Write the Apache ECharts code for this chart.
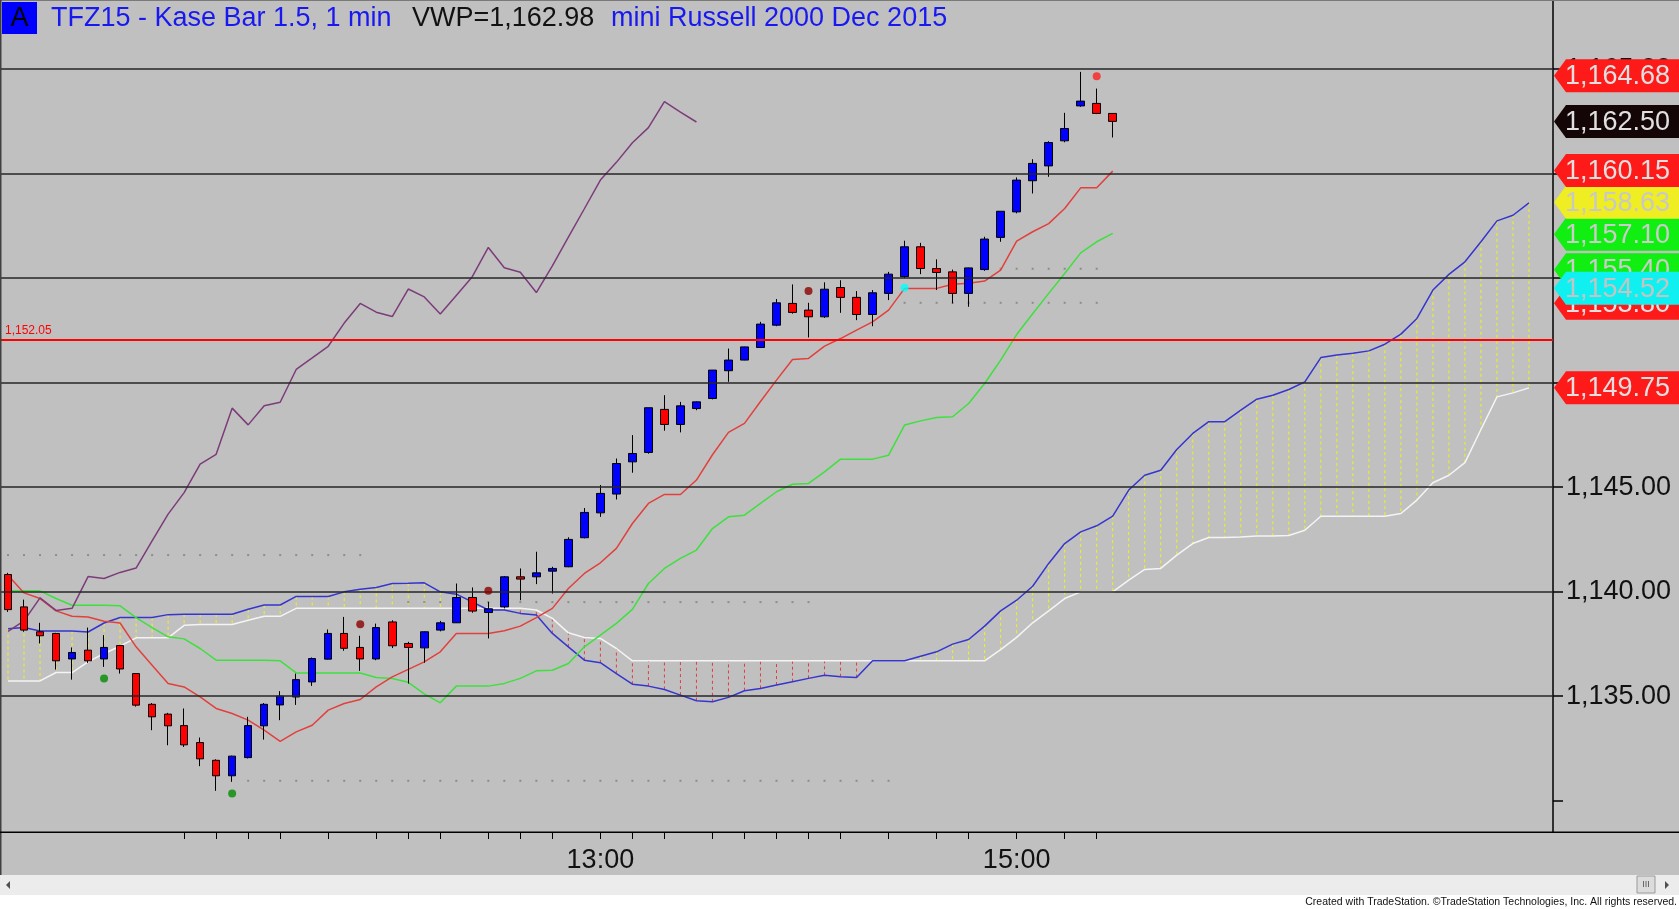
<!DOCTYPE html>
<html>
<head>
<meta charset="utf-8">
<title>TFZ15 - Kase Bar 1.5, 1 min</title>
<script src="https://cdn.jsdelivr.net/npm/echarts@6/dist/echarts.min.js"></script>
<style>
html, body { margin: 0; padding: 0; background: #c0c0c0; }
#chart { width: 1679px; height: 909px; }
</style>
</head>
<body>
<div id="chart"></div>
<script>
// bars, [open, close, low, high]
var candles = [
    [1140.82, 1139.14, 1139.03, 1140.90], [1139.27, 1138.16, 1138.08, 1139.62],
    [1138.08, 1137.89, 1137.52, 1138.51], [1138.00, 1136.69, 1136.27, 1138.03],
    [1136.78, 1137.09, 1135.79, 1137.33], [1137.20, 1136.69, 1136.59, 1138.28],
    [1136.78, 1137.33, 1136.40, 1137.92], [1137.42, 1136.30, 1136.08, 1137.45],
    [1136.08, 1134.57, 1134.50, 1136.10], [1134.61, 1134.01, 1133.37, 1134.67],
    [1134.14, 1133.58, 1132.65, 1134.20], [1133.59, 1132.67, 1132.57, 1134.41],
    [1132.78, 1132.00, 1131.65, 1133.02], [1131.93, 1131.19, 1130.47, 1131.98],
    [1131.19, 1132.13, 1130.90, 1132.15], [1132.06, 1133.59, 1132.02, 1134.01],
    [1133.58, 1134.61, 1132.92, 1134.67], [1134.58, 1135.00, 1133.85, 1135.24],
    [1134.96, 1135.79, 1134.58, 1136.08], [1135.68, 1136.80, 1135.49, 1136.85],
    [1136.77, 1138.00, 1136.75, 1138.19], [1138.00, 1137.29, 1137.17, 1138.79],
    [1137.33, 1136.78, 1136.21, 1137.89], [1136.78, 1138.28, 1136.72, 1138.47],
    [1138.55, 1137.41, 1137.30, 1138.63], [1137.52, 1137.33, 1135.60, 1137.60],
    [1137.31, 1138.08, 1136.60, 1138.10], [1138.16, 1138.51, 1138.10, 1138.60],
    [1138.51, 1139.72, 1138.50, 1140.39], [1139.72, 1139.07, 1138.99, 1140.20],
    [1139.00, 1139.18, 1137.76, 1139.51], [1139.27, 1140.71, 1139.20, 1140.75],
    [1140.71, 1140.60, 1139.59, 1141.11], [1140.71, 1140.90, 1140.36, 1141.91],
    [1140.98, 1141.11, 1139.91, 1141.19], [1141.19, 1142.50, 1141.17, 1142.60],
    [1142.58, 1143.79, 1142.55, 1144.00], [1143.77, 1144.70, 1143.58, 1145.10],
    [1144.67, 1146.13, 1144.41, 1146.37], [1146.21, 1146.61, 1145.69, 1147.49],
    [1146.66, 1148.80, 1146.60, 1148.80], [1148.72, 1148.00, 1147.70, 1149.40],
    [1148.00, 1148.89, 1147.62, 1149.08], [1148.76, 1149.08, 1148.68, 1149.10],
    [1149.24, 1150.60, 1149.20, 1150.60], [1150.57, 1151.08, 1150.04, 1151.63],
    [1151.08, 1151.71, 1151.07, 1151.72], [1151.68, 1152.80, 1151.68, 1152.91],
    [1152.75, 1153.82, 1152.70, 1154.00], [1153.79, 1153.36, 1153.30, 1154.70],
    [1153.47, 1153.15, 1152.16, 1153.82], [1153.15, 1154.47, 1153.10, 1154.80],
    [1154.55, 1154.08, 1153.34, 1154.90], [1154.08, 1153.26, 1152.99, 1154.38],
    [1153.26, 1154.30, 1152.70, 1154.43], [1154.27, 1155.19, 1153.95, 1155.30],
    [1155.07, 1156.50, 1155.00, 1156.79], [1156.50, 1155.46, 1155.19, 1156.69],
    [1155.46, 1155.27, 1154.43, 1155.90], [1155.30, 1154.27, 1153.79, 1155.41],
    [1154.27, 1155.49, 1153.63, 1155.50], [1155.41, 1156.87, 1155.35, 1156.98],
    [1156.95, 1158.20, 1156.74, 1158.20], [1158.17, 1159.69, 1158.10, 1159.82],
    [1159.66, 1160.49, 1159.05, 1160.69], [1160.37, 1161.49, 1159.85, 1161.55],
    [1161.57, 1162.16, 1161.50, 1162.91], [1163.24, 1163.47, 1163.20, 1164.87],
    [1163.36, 1162.88, 1162.85, 1164.07], [1162.88, 1162.50, 1161.73, 1162.90]
];

var laggingSpan = [
    1138.10, 1138.60, 1139.70, 1139.10, 1139.20, 1140.72, 1140.63, 1140.92, 1141.13, 1142.43,
    1143.71, 1144.74, 1146.10, 1146.57, 1148.78, 1147.98, 1148.89, 1149.06, 1150.63, 1151.18,
    1151.74, 1152.85, 1153.79, 1153.37, 1153.16, 1154.48, 1154.10, 1153.28, 1154.17, 1155.07,
    1156.47, 1155.50, 1155.28, 1154.31, 1155.59, 1156.96, 1158.32, 1159.69, 1160.54, 1161.48,
    1162.20, 1163.45, 1162.94, 1162.47
];

var tenkan = [
    1140.79, 1139.94, 1139.67, 1139.08, 1138.82, 1138.79, 1138.58, 1138.50, 1137.36, 1136.48,
    1135.60, 1135.44, 1134.96, 1134.41, 1134.17, 1133.85, 1133.37, 1132.84, 1133.29, 1133.61,
    1134.33, 1134.65, 1134.84, 1135.44, 1135.92, 1136.28, 1136.64, 1137.12, 1138.00, 1138.00,
    1138.00, 1138.13, 1138.35, 1138.76, 1139.20, 1140.15, 1140.87, 1141.38, 1142.07, 1143.26,
    1144.22, 1144.65, 1144.65, 1145.34, 1146.55, 1147.62, 1148.05, 1149.10, 1150.12, 1151.11,
    1151.16, 1151.75, 1152.11, 1152.51, 1152.91, 1153.47, 1154.51, 1154.51, 1154.51, 1154.71,
    1154.75, 1154.86, 1155.38, 1156.77, 1157.22, 1157.61, 1158.33, 1159.32, 1159.32, 1160.12
];

var kijun = [
    1140.04, 1140.04, 1140.04, 1139.67, 1139.35, 1139.35, 1139.35, 1139.32, 1138.76, 1138.28,
    1137.84, 1137.74, 1137.28, 1136.72, 1136.72, 1136.72, 1136.72, 1136.69, 1136.11, 1136.11,
    1136.11, 1136.11, 1136.11, 1135.89, 1135.84, 1135.66, 1135.11, 1134.68, 1135.48, 1135.48,
    1135.48, 1135.61, 1135.85, 1136.21, 1136.24, 1136.56, 1137.36, 1137.92, 1138.48, 1139.15,
    1140.39, 1141.11, 1141.59, 1141.99, 1143.02, 1143.58, 1143.66, 1144.22, 1144.78, 1145.14,
    1145.18, 1145.73, 1146.34, 1146.34, 1146.34, 1146.53, 1147.97, 1148.17, 1148.33, 1148.37,
    1149.00, 1149.96, 1151.08, 1152.30, 1153.30, 1154.27, 1155.22, 1156.21, 1156.74, 1157.14
];

var senkouA = [
    1138.23, 1138.28, 1138.12, 1138.12, 1138.12, 1138.07, 1138.50, 1138.76, 1138.76, 1138.76,
    1138.90, 1138.92, 1138.92, 1138.92, 1138.92, 1139.16, 1139.36, 1139.36, 1139.77, 1139.77,
    1139.77, 1139.99, 1140.12, 1140.20, 1140.39, 1140.40, 1140.42, 1139.99, 1139.88, 1139.51,
    1139.12, 1139.12, 1138.96, 1138.88, 1138.00, 1137.36, 1136.72, 1136.60, 1136.08, 1135.57,
    1135.48, 1135.32, 1135.05, 1134.78, 1134.73, 1134.94, 1135.26, 1135.37, 1135.53, 1135.69,
    1135.85, 1136.00, 1135.93, 1135.89, 1136.69, 1136.69, 1136.69, 1136.91, 1137.12, 1137.49,
    1137.71, 1138.35, 1139.08, 1139.59, 1140.26, 1141.35, 1142.30, 1142.86, 1143.15, 1143.61,
    1144.86, 1145.57, 1145.81, 1146.80, 1147.57, 1148.13, 1148.13, 1148.68, 1149.21, 1149.40,
    1149.67, 1150.04, 1151.20, 1151.32, 1151.41, 1151.52, 1151.84, 1152.32, 1153.07, 1154.43,
    1155.18, 1155.78, 1156.74, 1157.74, 1158.01, 1158.60
];

var senkouB = [
    1135.73, 1135.73, 1135.73, 1136.13, 1136.13, 1136.64, 1137.04, 1137.39, 1137.79, 1137.79,
    1137.79, 1138.39, 1138.43, 1138.43, 1138.43, 1138.63, 1138.82, 1138.82, 1139.20, 1139.20,
    1139.20, 1139.20, 1139.20, 1139.20, 1139.20, 1139.20, 1139.20, 1139.20, 1139.20, 1139.20,
    1139.20, 1139.20, 1139.20, 1139.12, 1138.72, 1138.03, 1137.81, 1137.76, 1137.28, 1136.69,
    1136.69, 1136.69, 1136.69, 1136.69, 1136.69, 1136.69, 1136.69, 1136.69, 1136.69, 1136.69,
    1136.69, 1136.69, 1136.69, 1136.69, 1136.69, 1136.69, 1136.69, 1136.69, 1136.69, 1136.69,
    1136.69, 1136.69, 1137.23, 1137.81, 1138.51, 1139.08, 1139.67, 1139.99, 1139.99, 1139.99,
    1140.55, 1141.06, 1141.11, 1141.75, 1142.30, 1142.59, 1142.59, 1142.62, 1142.66, 1142.66,
    1142.69, 1142.94, 1143.61, 1143.61, 1143.61, 1143.61, 1143.61, 1143.74, 1144.38, 1145.21,
    1145.57, 1146.17, 1147.76, 1149.32, 1149.51, 1149.75
];

// [bar, price, colour]
var signalDots = [
    [6, 1135.84, '#008c00'], [14, 1130.34, '#008c00'],
    [22, 1138.44, '#8b0000'], [30, 1140.04, '#8b0000'], [50, 1154.38, '#8b0000'],
    [56, 1154.54, '#00ffff'], [68, 1164.66, '#ff2020']
];

// [price, first bar, last bar]
var dottedLevels = [
    [1141.75, 0, 22], [1139.50, 25, 50], [1130.95, 15, 55],
    [1153.82, 56, 68], [1155.45, 62, 68]
];

// right edge tags, [price, background, text colour], drawn in this order
var priceTags = [
    [1149.75, '#ff1a1a', '#e0e0e0'],
    [1153.80, '#ff1a1a', '#e0e0e0'],
    [1155.40, '#11ee11', '#cccccc'],
    [1157.10, '#11ee11', '#cccccc'],
    [1158.63, '#eeee22', '#c8c8c8'],
    [1160.15, '#ff1a1a', '#e0e0e0'],
    [1162.50, '#140606', '#e0e0e0'],
    [1164.68, '#ff1a1a', '#e0e0e0'],
    [1154.52, '#11f0f0', '#c4c4c4']
];

var refLevel = 1152.05;
var yGridLines = [1135, 1140, 1145, 1150, 1155, 1160, 1165];
var yTicks = [1130, 1135, 1140, 1145, 1150, 1155, 1160, 1165];
var yLabelTicks = [1135, 1140, 1145, 1155, 1160, 1165];
var xTickBars = [11, 13, 15, 17, 20, 23, 25, 27, 30, 32, 34, 37, 39, 41, 44, 46, 48, 50, 52, 55, 58, 60, 63, 66, 68];
var timeLabels = [[37, '13:00'], [63, '15:00']];
var barCount = 97;

var FONT = '"Liberation Sans", Arial, sans-serif';

function fmt(v) {
    return Number(v).toLocaleString('en-US', {minimumFractionDigits: 2, maximumFractionDigits: 2});
}

var cats = [];
for (var i = 0; i < barCount; i++) {
    cats.push(String(i));
}

var labelMap = {};
timeLabels.forEach(function (t) { labelMap[t[0]] = t[1]; });

var cloudData = senkouA.map(function (a, i) { return [i, a, senkouB[i]]; });

var dotData = [];
dottedLevels.forEach(function (lv) {
    for (var k = lv[1]; k <= lv[2]; k++) {
        dotData.push([k, lv[0]]);
    }
});

var signalData = signalDots.map(function (d) {
    return {value: [d[0], d[1]], itemStyle: {color: d[2]}};
});

function renderCloud(params, api) {
    var a = api.value(1), b = api.value(2);
    if (Math.abs(a - b) < 0.03) {
        return;
    }
    var p1 = api.coord([api.value(0), a]);
    var p2 = api.coord([api.value(0), b]);
    return {
        type: 'line',
        shape: {x1: p1[0], y1: p1[1], x2: p2[0], y2: p2[1]},
        style: {stroke: a > b ? '#f2f21e' : '#e23c3c', lineWidth: 1, lineDash: [3, 3]}
    };
}

function renderTag(params, api) {
    var tag = priceTags[params.dataIndex];
    var y = api.coord([0, api.value(1)])[1];
    var x0 = params.coordSys.x + params.coordSys.width;
    var h = 16.5;
    return {
        type: 'group',
        children: [{
            type: 'polygon',
            shape: {points: [[x0 + 1, y], [x0 + 13, y - h], [x0 + 126, y - h], [x0 + 126, y + h], [x0 + 13, y + h]]},
            style: {fill: tag[1]}
        }, {
            type: 'text',
            style: {
                text: fmt(tag[0]), x: x0 + 12, y: y + 1,
                verticalAlign: 'middle', font: '27px ' + FONT, fill: tag[2]
            }
        }]
    };
}

var chart = echarts.init(document.getElementById('chart'));

var option = {
    backgroundColor: '#c0c0c0',
    animation: false,
    grid: {left: -3, right: 126, top: 1, bottom: 77},
    xAxis: {
        type: 'category',
        data: cats,
        boundaryGap: true,
        axisLine: {show: false},
        axisTick: {
            show: true,
            alignWithLabel: true,
            length: 7,
            interval: function (idx) { return xTickBars.indexOf(idx) >= 0; },
            lineStyle: {color: '#000', width: 1}
        },
        axisLabel: {
            interval: function (idx) { return labelMap[idx] !== undefined; },
            formatter: function (val, idx) { return labelMap[idx] || ''; },
            margin: 15,
            fontSize: 27,
            fontFamily: FONT,
            color: '#111'
        },
        splitLine: {show: false}
    },
    yAxis: {
        type: 'value',
        position: 'right',
        min: 1128.5,
        max: 1168.26,
        splitLine: {show: false},
        axisLine: {show: true, lineStyle: {color: '#000', width: 1.5}},
        axisTick: {
            show: true, length: 10, customValues: yTicks,
            lineStyle: {color: '#000', width: 1.5}
        },
        axisLabel: {
            customValues: yLabelTicks,
            margin: 13,
            fontSize: 27,
            fontFamily: FONT,
            color: '#111',
            formatter: function (v) { return fmt(v); }
        }
    },
    series: [
        {
            type: 'custom',
            name: 'cloud',
            renderItem: renderCloud,
            data: cloudData,
            encode: {x: 0, y: 1},
            z: 1,
            silent: true
        },
        {
            type: 'line',
            name: 'Senkou B',
            data: senkouB,
            symbol: 'none',
            lineStyle: {color: '#f4f4f4', width: 1.5},
            z: 2,
            markLine: {
                symbol: 'none',
                silent: true,
                label: {show: false},
                lineStyle: {color: '#262626', width: 1.5, type: 'solid'},
                data: yGridLines.map(function (v) { return {yAxis: v}; })
            }
        },
        {
            type: 'line',
            name: 'Senkou A',
            data: senkouA,
            symbol: 'none',
            lineStyle: {color: '#3535d0', width: 1.5},
            z: 2
        },
        {
            type: 'scatter',
            name: 'levels',
            data: dotData,
            symbol: 'rect',
            symbolSize: 2,
            itemStyle: {color: '#808080'},
            z: 2,
            silent: true
        },
        {
            type: 'line',
            name: 'Kijun',
            data: kijun,
            symbol: 'none',
            lineStyle: {color: '#3ee03e', width: 1.5},
            z: 3
        },
        {
            type: 'line',
            name: 'Tenkan',
            data: tenkan,
            symbol: 'none',
            lineStyle: {color: '#e2403c', width: 1.5},
            z: 3,
            markLine: {
                symbol: 'none',
                silent: true,
                lineStyle: {color: '#ff0000', width: 2.2, type: 'solid'},
                label: {
                    show: true,
                    position: 'insideStartTop',
                    distance: [5, 3],
                    formatter: function (p) { return fmt(p.value); },
                    color: '#ff0000',
                    fontSize: 12,
                    fontFamily: FONT
                },
                data: [{yAxis: refLevel}]
            }
        },
        {
            type: 'line',
            name: 'Lagging',
            data: laggingSpan,
            symbol: 'none',
            lineStyle: {color: '#7c3c7a', width: 1.5},
            z: 3
        },
        {
            type: 'candlestick',
            name: 'TFZ15',
            data: candles,
            barWidth: 8,
            itemStyle: {
                color: '#0000ff',
                color0: '#ff0000',
                borderColor: '#000',
                borderColor0: '#000',
                borderWidth: 1
            },
            z: 4
        },
        {
            type: 'scatter',
            name: 'signals',
            data: signalData,
            symbolSize: 8,
            z: 5
        },
        {
            type: 'custom',
            name: 'tags',
            renderItem: renderTag,
            data: priceTags.map(function (t) { return [0, t[0]]; }),
            encode: {x: 0, y: 1},
            clip: false,
            z: 10,
            silent: true
        }
    ],
    graphic: [
        {type: 'rect', shape: {x: 0, y: 0, width: 1679, height: 1}, style: {fill: '#7a7a7a'}, z: 20},
        {type: 'rect', shape: {x: 0, y: 0, width: 1.5, height: 875}, style: {fill: '#404040'}, z: 20},
        {type: 'rect', shape: {x: 0, y: 831.5, width: 1679, height: 1.5}, style: {fill: '#000'}, z: 20},
        {type: 'rect', shape: {x: 2, y: 2, width: 35, height: 32}, style: {fill: '#0000ff'}, z: 20},
        {type: 'text', x: 19.5, y: 19, style: {text: 'A', align: 'center', verticalAlign: 'middle', font: '27px ' + FONT, fill: '#000'}, z: 21},
        {type: 'text', x: 51, y: 19, style: {text: 'TFZ15 - Kase Bar 1.5, 1 min', verticalAlign: 'middle', font: '27px ' + FONT, fill: '#1818f0'}, z: 21},
        {type: 'text', x: 412, y: 19, style: {text: 'VWP=1,162.98', verticalAlign: 'middle', font: '27px ' + FONT, fill: '#111'}, z: 21},
        {type: 'text', x: 611, y: 19, style: {text: 'mini Russell 2000 Dec 2015', verticalAlign: 'middle', font: '27px ' + FONT, fill: '#1818f0'}, z: 21},
        // scroll bar and footer
        {type: 'rect', shape: {x: 0, y: 875, width: 1679, height: 20}, style: {fill: '#ececec'}, z: 20},
        {type: 'rect', shape: {x: 0, y: 895, width: 1679, height: 14}, style: {fill: '#ffffff'}, z: 20},
        {type: 'polygon', shape: {points: [[6, 885], [10, 881], [10, 889]]}, style: {fill: '#505050'}, z: 21},
        {type: 'rect', shape: {x: 1637, y: 876, width: 18, height: 17}, style: {fill: '#dcdcdc', stroke: '#9a9a9a', lineWidth: 1}, z: 21},
        {type: 'text', x: 1646, y: 885, style: {text: 'III', align: 'center', verticalAlign: 'middle', font: '9px ' + FONT, fill: '#555'}, z: 22},
        {type: 'polygon', shape: {points: [[1669, 885], [1665, 881], [1665, 889]]}, style: {fill: '#505050'}, z: 21},
        {type: 'text', x: 1677, y: 902, style: {text: 'Created with TradeStation. \u00a9TradeStation Technologies, Inc. All rights reserved.', align: 'right', verticalAlign: 'middle', font: '10.5px "Liberation Sans Narrow", ' + FONT, fill: '#111'}, z: 21}
    ]
};

chart.setOption(option);
</script>
</body>
</html>
